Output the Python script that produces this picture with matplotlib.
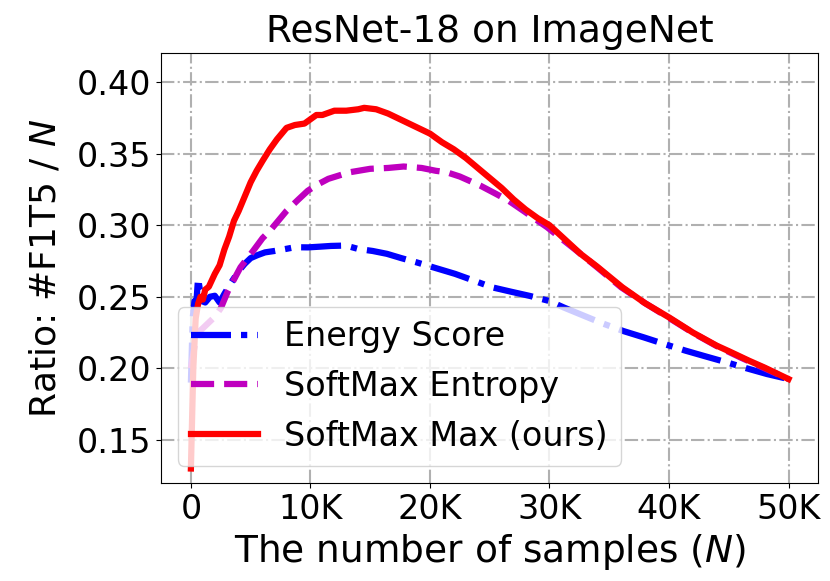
import numpy as np
import matplotlib
matplotlib.use("Agg")
import matplotlib.pyplot as plt
from matplotlib.ticker import FuncFormatter

# sample counts (in thousands) and ratio values
energy_k = [0, 0.15, 0.3, 0.45, 0.6, 0.75, 0.9, 1.2, 1.6, 2.0, 2.4, 2.8, 3.3, 4.0,
            4.5, 5.0, 5.55, 6.2, 7.0, 8.0, 8.7, 9.8, 10.8, 11.7, 12.6, 13.3, 14.0,
            15.2, 16.4, 17.6, 18.9, 20.5, 22.1, 23.6, 25.2, 26.8, 28.4, 30.0, 31.2,
            32.8, 34.4, 36.2, 37.9, 39.6, 41.4, 43.2, 44.9, 46.5, 48.2, 50.0]
energy_val = [0.19, 0.235, 0.247, 0.245, 0.263, 0.255, 0.247, 0.246, 0.250, 0.2507,
              0.246, 0.252, 0.259, 0.268, 0.273, 0.277, 0.279, 0.281, 0.282, 0.2835,
              0.2846, 0.2845, 0.285, 0.2855, 0.2857, 0.285, 0.2834, 0.282, 0.280,
              0.277, 0.274, 0.270, 0.266, 0.2615, 0.2566, 0.2535, 0.2505, 0.247,
              0.2425, 0.237, 0.2315, 0.226, 0.2216, 0.217, 0.2123, 0.208, 0.204,
              0.200, 0.196, 0.1925]

entropy_k = [0, 0.3, 0.6, 1.0, 1.5, 2.0, 2.5, 2.8, 3.1, 3.6, 4.15, 5.2, 6.0, 6.6,
             7.3, 8.0, 9.0, 9.77, 10.5, 11.5, 12.5, 13.3, 15.0, 16.5, 17.8, 19.3,
             20.5, 21.4, 22.5, 24.2, 25.5, 26.6, 28.0, 29.8, 32.0, 34.0, 36.0, 38.0,
             40.0, 42.0, 44.0, 46.0, 48.0, 50.0]
entropy_val = [0.20, 0.215, 0.225, 0.228, 0.232, 0.236, 0.242, 0.248, 0.254, 0.262,
               0.2706, 0.282, 0.291, 0.296, 0.303, 0.310, 0.318, 0.324, 0.328,
               0.3324, 0.335, 0.337, 0.3394, 0.340, 0.341, 0.340, 0.338, 0.337,
               0.334, 0.3277, 0.322, 0.317, 0.309, 0.2986, 0.284, 0.2705, 0.2566,
               0.2455, 0.2352, 0.2248, 0.2155, 0.2075, 0.2, 0.1925]

max_k = [0, 0.2, 0.4, 0.6, 0.8, 1.0, 1.2, 1.5, 2.0, 2.4, 2.8, 3.2, 3.6, 4.0, 4.5,
         5.0, 5.5, 6.0, 6.6, 7.2, 8.0, 8.7, 9.5, 10.0, 10.5, 11.0, 12.0, 13.0, 14.0,
         14.5, 15.5, 16.5, 17.5, 18.5, 20.0, 21.0, 22.0, 23.0, 24.0, 25.0, 26.0,
         27.0, 28.0, 29.0, 30.0, 32.6, 34.0, 36.1, 38.0, 40.0, 42.0, 44.0, 45.0,
         46.7, 48.0, 50.0]
max_val = [0.13, 0.20, 0.235, 0.245, 0.250, 0.248, 0.255, 0.257, 0.266, 0.272,
           0.283, 0.292, 0.303, 0.310, 0.320, 0.330, 0.338, 0.345, 0.353, 0.360,
           0.368, 0.370, 0.371, 0.374, 0.377, 0.377, 0.380, 0.380, 0.381, 0.382,
           0.381, 0.378, 0.374, 0.370, 0.364, 0.358, 0.353, 0.347, 0.340, 0.333,
           0.326, 0.318, 0.311, 0.305, 0.300, 0.280, 0.271, 0.2566, 0.2455, 0.2356,
           0.225, 0.2158, 0.212, 0.2053, 0.2005, 0.1925]

fs = 24
fig = plt.figure(figsize=(8.3, 5.81), dpi=100)
ax = fig.add_axes([0.194, 0.169, 0.792, 0.739])

ax.plot(np.array(energy_k) * 1000, energy_val, 'b-.', lw=4.5, label='Energy Score')
ax.plot(np.array(entropy_k) * 1000, entropy_val, 'm--', lw=4.5, label='SoftMax Entropy')
ax.plot(np.array(max_k) * 1000, max_val, 'r-', lw=4.5, label='SoftMax Max (ours)')

ax.set_ylim(0.12, 0.42)
ax.set_xticks([0, 10000, 20000, 30000, 40000, 50000])
ax.set_yticks([0.15, 0.20, 0.25, 0.30, 0.35, 0.40])
ax.xaxis.set_major_formatter(FuncFormatter(lambda v, p: '0' if v == 0 else '%dK' % (v / 1000)))
ax.yaxis.set_major_formatter(FuncFormatter(lambda v, p: '%.2f' % v))
ax.tick_params(labelsize=fs)
ax.grid(True, linestyle='-.', color='#b0b0b0', lw=1.5)

ax.set_title('ResNet-18 on ImageNet', fontsize=27, pad=8)
ax.set_xlabel('The number of samples ($N$)', fontsize=27, labelpad=5)
ax.set_ylabel('Ratio: #F1T5 / $N$', fontsize=26, labelpad=10)
ax.legend(loc='lower left', fontsize=fs)

fig.savefig('out.png', dpi=100)
